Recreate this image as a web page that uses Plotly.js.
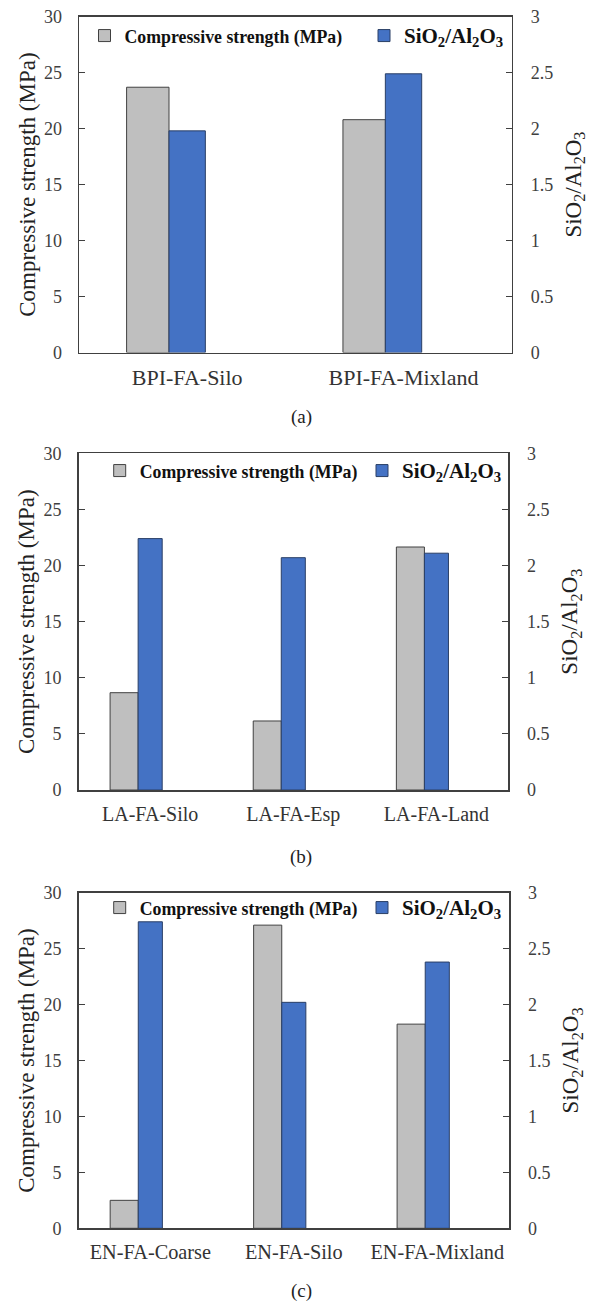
<!DOCTYPE html>
<html>
<head>
<meta charset="utf-8">
<script src="https://cdn.plot.ly/plotly-3.0.1.min.js"></script>
<style>
html,body{margin:0;padding:0;background:#fff;}
#chart{width:595px;height:1302px;}
</style>
</head>
<body>
<div id="chart"></div>
<script>
// ---- data ----
const catsA = ["BPI-FA-Silo", "BPI-FA-Mixland"];
const strengthA = [23.7, 20.8];
const ratioA = [1.98, 2.49];

const catsB = ["LA-FA-Silo", "LA-FA-Esp", "LA-FA-Land"];
const strengthB = [8.67, 6.15, 21.65];
const ratioB = [2.24, 2.07, 2.11];

const catsC = ["EN-FA-Coarse", "EN-FA-Silo", "EN-FA-Mixland"];
const strengthC = [2.5, 27.1, 18.25];
const ratioC = [2.74, 2.02, 2.38];

const panelLabels = ["(a)", "(b)", "(c)"];
const nameStrength = "Compressive strength (MPa)";
const nameRatio = "<span style='font-size:21px'>SiO<sub>2</sub>/Al<sub>2</sub>O<sub>3</sub></span>";
const leftTitle = "Compressive strength (MPa)";
const rightTitle = "SiO<sub>2</sub>/Al<sub>2</sub>O<sub>3</sub>";

// ---- geometry helpers ----
const W = 595, H = 1302;
const px = v => v / W;
const py = v => 1 - v / H;
const FONT = "Liberation Serif";
const AX = "#404040";
const GRAY = "#BFBFBF", BLUE = "#4472C4";

const panels = [
  {cats: catsA, s: strengthA, r: ratioA, x0: 79, x1: 511.7, yt: 16.7, yb: 352.5, legG: [104.5, 36], legB: [384, 36], lab: 417, cf: 22},
  {cats: catsB, s: strengthB, r: ratioB, x0: 78.6, x1: 508, yt: 453.3, yb: 790, legG: [119.7, 471], legB: [382, 471], lab: 857, cf: 20},
  {cats: catsC, s: strengthC, r: ratioC, x0: 78.6, x1: 509, yt: 892.7, yb: 1228.3, legG: [119.7, 908], legB: [382, 908], lab: 1291, cf: 20.3}
];

const data = [];
const layout = {
  width: W, height: H,
  margin: {l: 0, r: 0, t: 0, b: 0},
  paper_bgcolor: "#fff", plot_bgcolor: "#fff",
  showlegend: true,
  barmode: "overlay",
  font: {family: FONT, color: AX},
  annotations: []
};

function legendObj(pos) {
  return {
    orientation: "h",
    x: px(pos[0] - 20), xanchor: "left",
    y: py(pos[1]), yanchor: "middle",
    bgcolor: "rgba(0,0,0,0)", borderwidth: 0,
    font: {family: FONT, size: 17.8, color: "#111", weight: "bold"},
    valign: "middle"
  };
}

panels.forEach((p, i) => {
  const xk = i === 0 ? "x" : "x" + (i + 1);
  const yL = i === 0 ? "y" : "y" + (2 * i + 1);
  const yR = "y" + (2 * i + 2);
  const legG = i === 0 ? "legend" : "legend" + (2 * i + 1);
  const legB = "legend" + (2 * i + 2);

  data.push({
    type: "bar", x: p.cats, y: p.s, name: nameStrength,
    xaxis: xk, yaxis: yL, legend: legG,
    offset: -0.28, width: 0.196,
    marker: {color: GRAY, line: {color: "#404040", width: 1}},
    hoverinfo: "x+y"
  });
  data.push({
    type: "bar", x: p.cats, y: p.r, name: nameRatio,
    xaxis: xk, yaxis: yR, legend: legB,
    offset: -0.084, width: 0.168,
    marker: {color: BLUE, line: {color: "#2A3F66", width: 1}},
    hoverinfo: "x+y"
  });

  const xName = i === 0 ? "xaxis" : "xaxis" + (i + 1);
  const yLName = i === 0 ? "yaxis" : "yaxis" + (2 * i + 1);
  const yRName = "yaxis" + (2 * i + 2);

  layout[xName] = {
    domain: [px(p.x0), px(p.x1)], anchor: yL,
    type: "category", range: [-0.5, p.cats.length - 0.5],
    showline: true, mirror: true, linecolor: AX, linewidth: 1.5,
    ticks: "", showgrid: false, zeroline: false,
    tickfont: {family: FONT, size: p.cf, color: "#333"},
    ticklabelstandoff: 5
  };
  layout[yLName] = {
    domain: [py(p.yb), py(p.yt)], anchor: xk,
    range: [0, 30], dtick: 5, tick0: 0,
    showline: true, linecolor: AX, linewidth: 1.5,
    ticks: "inside", ticklen: 6, tickcolor: AX, tickwidth: 1,
    showgrid: false, zeroline: false,
    tickfont: {family: FONT, size: 18, color: "#404040"},
    ticklabelstandoff: 12,
    title: {text: leftTitle, font: {family: FONT, size: 23, color: "#222"}, standoff: 2}
  };
  layout[yRName] = {
    overlaying: yL, side: "right", anchor: xk,
    range: [0, 3], dtick: 0.5, tick0: 0,
    showline: true, linecolor: AX, linewidth: 1.5,
    ticks: "inside", ticklen: 6, tickcolor: AX, tickwidth: 1,
    showgrid: false, zeroline: false,
    tickfont: {family: FONT, size: 18, color: "#404040"},
    ticklabelstandoff: 14,
    title: {text: rightTitle, font: {family: FONT, size: 23, color: "#222"}, standoff: 12}
  };
  layout[legG] = legendObj(p.legG);
  layout[legB] = legendObj(p.legB);
  layout.annotations.push({
    text: panelLabels[i], xref: "paper", yref: "paper",
    x: px(301), y: py(p.lab), xanchor: "center", yanchor: "middle",
    showarrow: false, font: {family: FONT, size: 19, color: "#222"}
  });
});

Plotly.newPlot("chart", data, layout, {displayModeBar: false, staticPlot: true});
</script>
</body>
</html>
